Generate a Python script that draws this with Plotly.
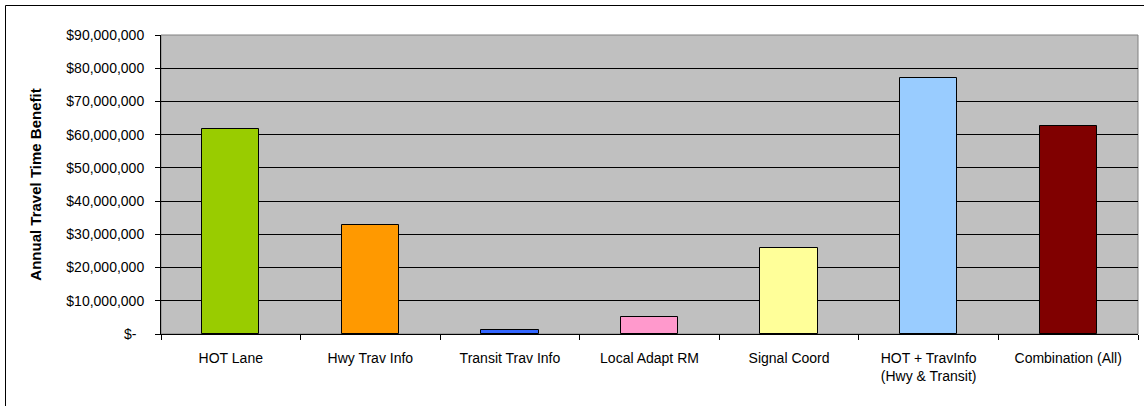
import plotly.graph_objects as go

# Strategy categories and their annual travel time benefit (USD)
categories = [
    "HOT Lane",
    "Hwy Trav Info",
    "Transit Trav Info",
    "Local Adapt RM",
    "Signal Coord",
    "HOT + TravInfo<br>(Hwy & Transit)",
    "Combination (All)",
]
benefits = [61700000, 32800000, 1300000, 5100000, 25900000, 77000000, 62500000]
bar_colors = ["#99CC00", "#FF9900", "#3366FF", "#FF99CC", "#FFFF99", "#99CCFF", "#800000"]

y_tick_values = [0, 10000000, 20000000, 30000000, 40000000, 50000000,
                 60000000, 70000000, 80000000, 90000000]
y_tick_labels = ["$-  ", "$10,000,000", "$20,000,000", "$30,000,000", "$40,000,000",
                 "$50,000,000", "$60,000,000", "$70,000,000", "$80,000,000", "$90,000,000"]

W, H = 1144, 406
ML, MR, MT, MB = 161, 6, 35, 72
PW, PH = W - ML - MR, H - MT - MB


def px_x(p):
    return (p - ML) / PW


def px_y(p):
    return (H - MB - p) / PH


fig = go.Figure(
    go.Bar(
        x=categories,
        y=benefits,
        marker=dict(color=bar_colors, line=dict(color="#000000", width=1)),
        width=0.41,
    )
)

font_family = "Arial, Liberation Sans, sans-serif"

fig.update_layout(
    width=W,
    height=H,
    margin=dict(l=ML, r=MR, t=MT, b=MB, pad=0),
    paper_bgcolor="#FFFFFF",
    plot_bgcolor="#C0C0C0",
    showlegend=False,
    font=dict(family=font_family, size=14, color="#000000"),
    bargap=0,
    shapes=[
        # plot area frame
        dict(type="rect", xref="paper", yref="paper", x0=0, x1=1, y0=0, y1=1,
             line=dict(color="#808080", width=1), layer="below"),
        # chart border (top and left edges visible)
        dict(type="rect", xref="paper", yref="paper",
             x0=px_x(5.5), x1=px_x(W + 10), y0=px_y(H + 10), y1=px_y(5.5),
             line=dict(color="#000000", width=1), layer="below"),
    ],
)

fig.update_xaxes(
    type="category",
    range=[-0.5, 6.5],
    tickson="boundaries",
    ticks="outside",
    ticklen=5,
    tickcolor="#000000",
    showline=True,
    linecolor="#000000",
    linewidth=1,
    showgrid=False,
    ticklabelstandoff=11,
    tickfont=dict(family=font_family, size=14, color="#000000"),
)

fig.update_yaxes(
    range=[0, 90000000],
    tickvals=y_tick_values,
    ticktext=y_tick_labels,
    ticks="outside",
    ticklen=5,
    tickcolor="#000000",
    showline=True,
    linecolor="#000000",
    linewidth=1,
    showgrid=True,
    gridcolor="#000000",
    gridwidth=1,
    zeroline=False,
    ticklabelstandoff=8,
    tickfont=dict(family=font_family, size=14, color="#000000"),
    title=dict(
        text="<b>Annual Travel Time Benefit</b>",
        font=dict(family=font_family, size=15, color="#000000"),
        standoff=21,
    ),
)

fig.write_html("out.html")
